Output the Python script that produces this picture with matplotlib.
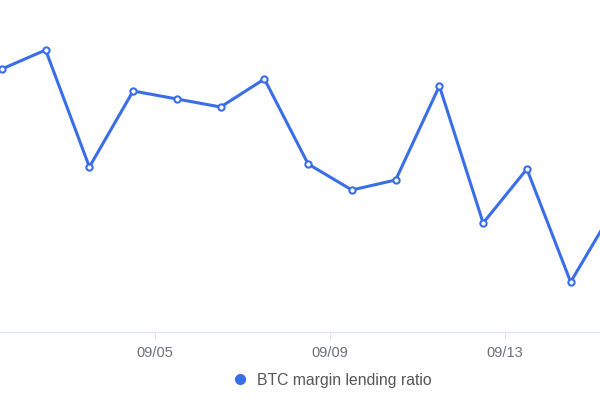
import matplotlib
matplotlib.use("Agg")
import matplotlib.pyplot as plt
from matplotlib.lines import Line2D

# daily points, placed at midday (x = day of September)
days = [1.5, 2.5, 3.5, 4.5, 5.5, 6.5, 7.5, 8.5, 9.5, 10.5, 11.5, 12.5, 13.5, 14.5, 15.5]
ratio = [26.3, 28.2, 16.5, 24.1, 23.3, 22.5, 25.3, 16.8, 14.2, 15.2, 24.6, 10.9, 16.3, 5.0, 12.4]
tick_pos = [5, 9, 13]
tick_labels = ["09/05", "09/09", "09/13"]
series_name = "BTC margin lending ratio"

blue = "#3a6ee8"
plt.rcParams['font.family'] = ['Liberation Sans', 'DejaVu Sans']

fig = plt.figure(figsize=(6, 4), dpi=100)
ax = fig.add_axes([0, 0.17, 1, 0.83])

ax.plot(days, ratio, color=blue, lw=2.2, marker='o', ms=4.5,
        mfc='white', mec=blue, mew=1.5, zorder=3)

ax.set_xlim(1.457, 15.171)
ax.set_ylim(0, 33.2)

for s in ['top', 'left', 'right']:
    ax.spines[s].set_visible(False)
ax.spines['bottom'].set_color('#e0e6f1')
ax.spines['bottom'].set_linewidth(1)

ax.set_yticks([])
ax.set_xticks(tick_pos)
ax.set_xticklabels(tick_labels, color='#6e7079', fontsize=10.5)
ax.tick_params(axis='x', length=5, color='#e0e6f1', pad=5)

handle = Line2D([], [], marker='o', ls='none', color=blue, ms=7)
fig.legend(handles=[handle], labels=[series_name], loc='center',
           bbox_to_anchor=(0.546, 0.05), frameon=False, handletextpad=0.1,
           fontsize=11.3, labelcolor='#555555')

fig.savefig("out.png", dpi=100)
